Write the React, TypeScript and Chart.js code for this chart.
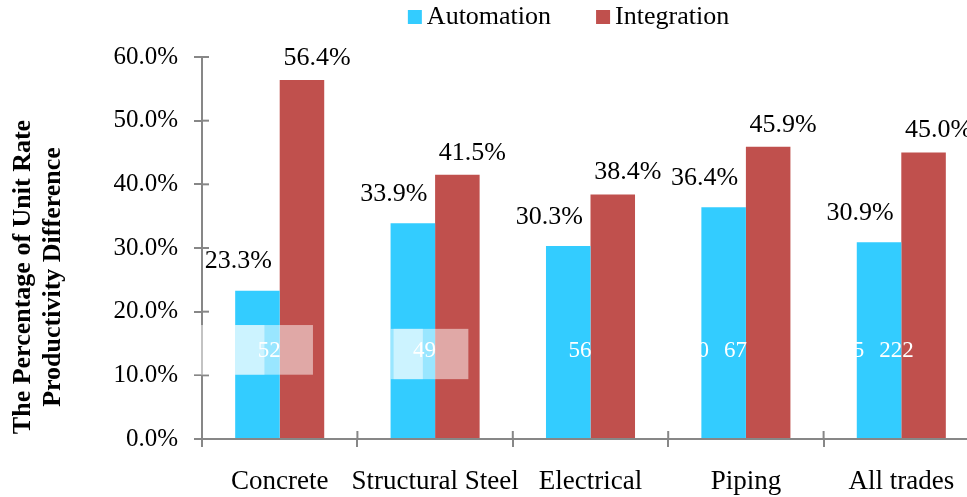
import React, { useEffect, useRef } from "react";
import { Chart, registerables } from "chart.js";

Chart.register(...registerables);

const categories = ["Concrete", "Structural Steel", "Electrical", "Piping", "All trades"];
const seriesNames = ["Automation", "Integration"];
const automation = [23.3, 33.9, 30.3, 36.4, 30.9];
const integration = [56.4, 41.5, 38.4, 45.9, 45.0];
const yTicks = [0, 10, 20, 30, 40, 50, 60];
const sampleSizes = ["52", "49", "56", "67", "222"];
const hiddenSamples = ["", "", "", "50", "45"];
const yTitleLines = ["The Percentage of Unit Rate", "Productivity Difference"];

const BLUE = "#33CCFF";
const RED = "#C0504D";
const AXIS = "#878787";
const FONT = "'Liberation Serif', 'Times New Roman', serif";

const decor = {
  id: "decor",
  afterDatasetsDraw(chart: any) {
    const ctx = chart.ctx as CanvasRenderingContext2D;
    const { left, bottom } = chart.chartArea;
    const xs = chart.scales.x;
    const ys = chart.scales.y;
    const m0 = chart.getDatasetMeta(0);
    const m1 = chart.getDatasetMeta(1);
    ctx.save();

    // inner halves of the crossing tick marks
    ctx.strokeStyle = AXIS;
    ctx.lineWidth = 2;
    ys.ticks.forEach((_t: any, i: number) => {
      const y = ys.getPixelForTick(i);
      ctx.beginPath();
      ctx.moveTo(left, y);
      ctx.lineTo(left + 7, y);
      ctx.stroke();
    });
    const cw = xs.getPixelForValue(1) - xs.getPixelForValue(0);
    for (let i = 0; i <= categories.length; i++) {
      const x = xs.getPixelForValue(0) - cw / 2 + cw * i;
      ctx.beginPath();
      ctx.moveTo(x, bottom);
      ctx.lineTo(x, bottom - 8);
      ctx.stroke();
    }

    // translucent overlay boxes
    ctx.fillStyle = "rgba(255,255,255,0.5)";
    const boxes = [
      { i: 0, top: 17.9, bot: 10.1 },
      { i: 1, top: 17.3, bot: 9.4 },
    ];
    boxes.forEach(({ i, top, bot }) => {
      const b = m0.data[i];
      const r = m1.data[i];
      const yT = ys.getPixelForValue(top);
      const yB = ys.getPixelForValue(bot);
      const bl = b.x - b.width / 2;
      ctx.fillRect(bl, yT, r.x + 11 - bl, yB - yT);
      const bx0 = i === 0 ? left - 12 : bl + 3;
      const bx1 = b.x + (i === 0 ? 7 : 10);
      ctx.fillRect(bx0, yT, bx1 - bx0, yB - yT);
    });

    // sample-size labels (white)
    ctx.fillStyle = "#ffffff";
    ctx.font = `23px ${FONT}`;
    ctx.textBaseline = "middle";
    const ySample = ys.getPixelForValue(13.8);
    categories.forEach((_c, i) => {
      const b = m0.data[i];
      const edge = b.x + b.width / 2;
      ctx.textAlign = "left";
      ctx.fillText(sampleSizes[i], edge - 22, ySample);
      if (hiddenSamples[i]) {
        ctx.textAlign = "right";
        ctx.fillText(hiddenSamples[i], edge - 37, ySample);
      }
    });

    // value labels
    ctx.fillStyle = "#000000";
    ctx.font = `26px ${FONT}`;
    ctx.textAlign = "center";
    ctx.textBaseline = "middle";
    m0.data.forEach((bar: any, i: number) => {
      ctx.fillText(automation[i].toFixed(1) + "%", bar.x - 19, bar.y - 29);
    });
    m1.data.forEach((bar: any, i: number) => {
      ctx.fillText(integration[i].toFixed(1) + "%", bar.x + 15, bar.y - 22);
    });

    // y axis title
    ctx.font = `bold 26px ${FONT}`;
    const yMid = 277;
    [23, 53].forEach((x, k) => {
      ctx.save();
      ctx.translate(x, yMid);
      ctx.rotate(-Math.PI / 2);
      ctx.textAlign = "center";
      ctx.textBaseline = "middle";
      ctx.fillText(yTitleLines[k], 0, 0);
      ctx.restore();
    });

    // legend
    ctx.font = `26px ${FONT}`;
    ctx.textAlign = "left";
    ctx.textBaseline = "middle";
    const colors = [BLUE, RED];
    const w0 = ctx.measureText(seriesNames[0]).width;
    const w1 = ctx.measureText(seriesNames[1]).width;
    const total = 14 + 5 + w0 + 45 + 14 + 5 + w1;
    let lx = (chart.chartArea.left + chart.chartArea.right) / 2 - 22 - total / 2;
    const ly = 17;
    [w0, w1].forEach((w, k) => {
      ctx.fillStyle = colors[k];
      ctx.fillRect(lx, ly - 7, 14, 14);
      ctx.fillStyle = "#000000";
      ctx.fillText(seriesNames[k], lx + 19, ly);
      lx += 19 + w + 45;
    });

    ctx.restore();
  },
};

export default function App() {
  const ref = useRef<HTMLCanvasElement | null>(null);
  useEffect(() => {
    if (!ref.current) return;
    const chart = new Chart(ref.current, {
      type: "bar",
      data: {
        labels: categories,
        datasets: [
          {
            label: seriesNames[0],
            data: automation,
            backgroundColor: BLUE,
            borderWidth: 0,
            categoryPercentage: 0.573,
            barPercentage: 1,
          },
          {
            label: seriesNames[1],
            data: integration,
            backgroundColor: RED,
            borderWidth: 0,
            categoryPercentage: 0.573,
            barPercentage: 1,
          },
        ],
      },
      options: {
        responsive: false,
        animation: false,
        devicePixelRatio: 1,
        layout: { padding: { top: 57, right: 11, left: 0, bottom: 0 } },
        plugins: { legend: { display: false }, tooltip: { enabled: false } },
        scales: {
          x: {
            grid: { drawOnChartArea: false, offset: true, tickLength: 8, color: AXIS, lineWidth: 2 },
            border: { color: AXIS, width: 2 },
            ticks: {
              font: { family: FONT, size: 27 },
              color: "#000000",
              padding: 19,
              maxRotation: 0,
              minRotation: 0,
              autoSkip: false,
            },
            afterFit: (s: any) => {
              s.height = 58;
            },
          },
          y: {
            min: 0,
            max: 60,
            afterBuildTicks: (s: any) => {
              s.ticks = yTicks.map((v) => ({ value: v }));
            },
            ticks: {
              callback: (v: any) => Number(v).toFixed(1) + "%",
              font: { family: FONT, size: 25 },
              color: "#000000",
              padding: 16,
            },
            grid: { drawOnChartArea: false, tickLength: 8, color: AXIS, lineWidth: 2 },
            border: { color: AXIS, width: 2 },
            afterFit: (s: any) => {
              s.width = 202;
            },
          },
        },
      },
      plugins: [decor],
    });
    return () => chart.destroy();
  }, []);
  return (
    <div
      style={{
        position: "absolute",
        left: 0,
        top: 0,
        width: 967,
        height: 497,
        overflow: "hidden",
        background: "#ffffff",
      }}
    >
      <canvas ref={ref} width={990} height={497} style={{ display: "block" }} />
    </div>
  );
}
